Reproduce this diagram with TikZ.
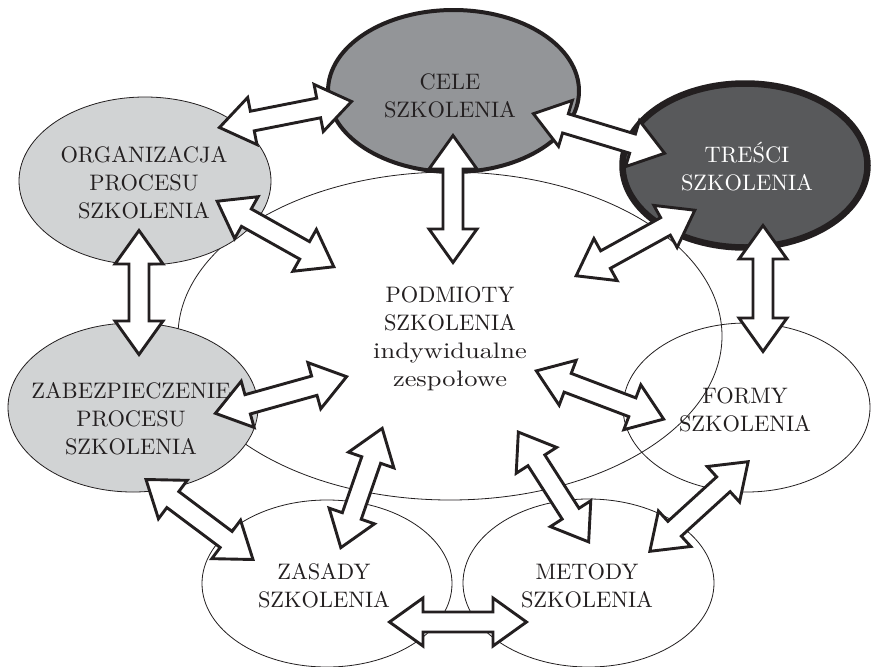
\documentclass[tikz,border=0pt]{standalone}
\usepackage{fontspec}
\setmainfont{lmroman10-regular}[Extension=.otf]
\usetikzlibrary{shapes.geometric,calc}
\definecolor{lightg}{HTML}{D1D3D4}
\definecolor{midg}{HTML}{939598}
\definecolor{darkg}{HTML}{58595B}
\definecolor{ink}{HTML}{231F20}
\tikzset{
  ell/.style={ellipse, draw=ink, line width=0.8pt, inner sep=0pt, outer sep=0pt},
  txt/.style={align=center, text=ink, inner sep=0pt, font=\fontsize{22.4}{28}\selectfont},
  blockarr/.style={draw=ink, fill=white, line width=2.9pt, line join=miter},
}
\newcommand\wide[1]{{\addfontfeatures{FakeStretch=1.18}#1}}
\newcommand\dblarr[2]{%
  \path let \p1=(#1), \p2=(#2), \n1={atan2(\y2-\y1,\x2-\x1)}, \n2={veclen(\x2-\x1,\y2-\y1)} in
    \pgfextra{\xdef\dblAng{\n1}\xdef\dblLen{\n2}};
  \begin{scope}[shift={(#1)}, rotate=\dblAng]
    \pgfmathsetmacro\dL{\dblLen-2.5}
    \pgfmathsetmacro\dB{\dblLen-36}
    \draw[blockarr] (2.5pt,0pt) -- (36pt,24pt) -- (36pt,10pt) -- (\dB pt,10pt) -- (\dB pt,24pt)
      -- (\dL pt,0pt) -- (\dB pt,-24pt) -- (\dB pt,-10pt) -- (36pt,-10pt) -- (36pt,-24pt) -- cycle;
  \end{scope}}
\begin{document}
\begin{tikzpicture}[x=1pt,y=-1pt]
\useasboundingbox (0,0) rectangle (871,667);
\fill[white] (0,0) rectangle (871,667);
% open ellipses
\node[ell, minimum width=544pt, minimum height=328pt] (pod) at (450,336) {};
\node[ell, minimum width=247pt, minimum height=169pt] (formy) at (746.5,407.5) {};
\node[ell, minimum width=250pt, minimum height=167pt] (zasady) at (327,583.5) {};
\node[ell, minimum width=251pt, minimum height=168pt] (metody) at (588.5,583) {};
% filled ellipses
\node[ell, fill=lightg, minimum width=252pt, minimum height=168pt] (org) at (145,181) {};
\node[ell, fill=lightg, minimum width=250pt, minimum height=169pt] (zab) at (133,407.5) {};
\node[ell, fill=midg, line width=4pt, minimum width=251pt, minimum height=162pt] (cele) at (453.5,91) {};
\node[ell, fill=darkg, line width=6.5pt, minimum width=245pt, minimum height=164pt] (tresci) at (745,165.5) {};
% texts
\node[txt] (celeT) at (450,96) {CELE\\SZKOLENIA};
\node[txt, text=white] (tresciT) at (747,167) {TREŚCI\\SZKOLENIA};
\node[txt] (orgT) at (144,183) {ORGANIZACJA\\PROCESU\\SZKOLENIA};
\node[txt] (zabT) at (131,419) {ZABEZPIECZENIE\\PROCESU\\SZKOLENIA};
\node[txt] (podT) at (450,339) {PODMIOTY\\SZKOLENIA\\\wide{indywidualne}\\\wide{zespołowe}};
\node[txt] (formyT) at (745,410) {FORMY\\SZKOLENIA};
\node[txt] (zasadyT) at (324,586) {ZASADY\\SZKOLENIA};
\node[txt] (metodyT) at (587,586) {METODY\\SZKOLENIA};
% arrow end points
\coordinate (a1s) at (217,128);  \coordinate (a1e) at (354,101);
\coordinate (a2s) at (453,133);  \coordinate (a2e) at (453,265);
\coordinate (a3s) at (531,113);  \coordinate (a3e) at (667,154);
\coordinate (a4s) at (697,209);  \coordinate (a4e) at (574,277);
\coordinate (a5s) at (763,223);  \coordinate (a5e) at (763,354);
\coordinate (a6s) at (215,200);  \coordinate (a6e) at (336,268);
\coordinate (a7s) at (139,228);  \coordinate (a7e) at (139,357);
\coordinate (a8s) at (213,414);  \coordinate (a8e) at (349,376);
\coordinate (a9s) at (144,478);  \coordinate (a9e) at (255,561);
\coordinate (a10s) at (383,426); \coordinate (a10e) at (340,550);
\coordinate (a11s) at (534,370); \coordinate (a11e) at (666,420);
\coordinate (a12s) at (517,430); \coordinate (a12e) at (590,544);
\coordinate (a13s) at (750,460); \coordinate (a13e) at (648,553);
\coordinate (a14s) at (387,622); \coordinate (a14e) at (529,622);
\foreach \i in {1,...,14}{\dblarr{a\i s}{a\i e}}
\end{tikzpicture}
\end{document}
